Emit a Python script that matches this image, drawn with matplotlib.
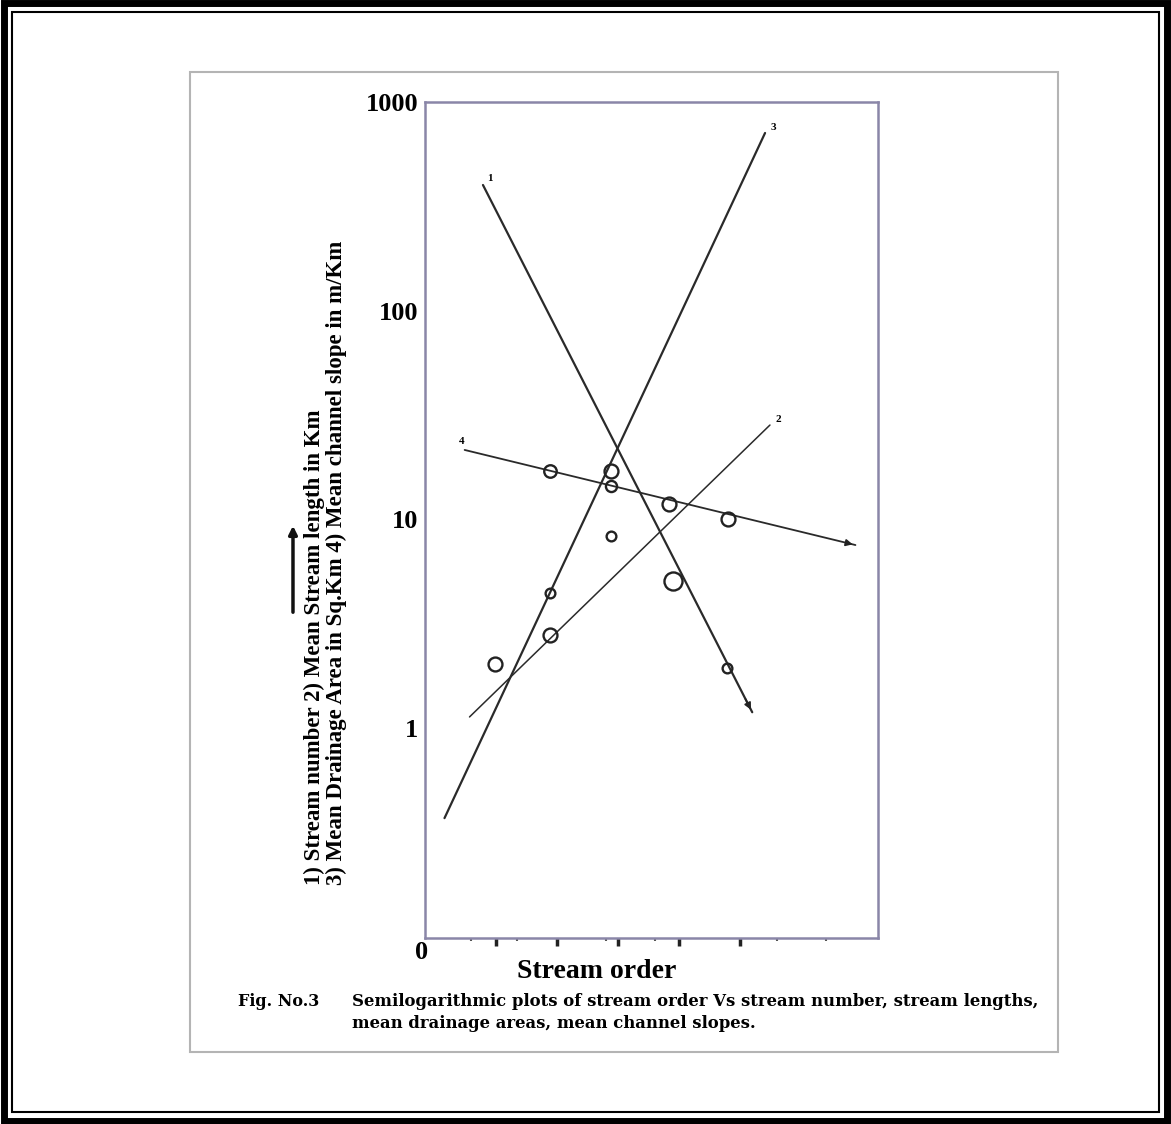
import matplotlib
matplotlib.use("Agg")
import matplotlib.pyplot as plt
from matplotlib.patches import Rectangle, FancyArrowPatch
from matplotlib.ticker import FixedLocator, NullFormatter

order_pts = [1.88, 2.89, 2.89, 3.83, 4.8, 2.89, 3.9, 1.89, 1.89, 0.98, 4.79]
value_pts = [17.0, 17.0, 14.4, 11.8, 10.0, 8.3, 5.06, 4.43, 2.79, 2.03, 1.94]
marker_size = [9, 10, 8, 10, 10, 7, 13, 7, 10, 10, 7]

# fitted lines: start and end (stream order, value)
line_names = ["1", "2", "3", "4"]
line_x = [[0.79, 5.2], [0.57, 5.49], [0.16, 5.41], [0.49, 6.89]]
line_y = [[400, 1.19], [1.13, 28.3], [0.37, 710], [21.5, 7.53]]
line_w = [1.6, 1.1, 1.6, 1.3]

xticks = [1, 2, 3, 4, 5]
yticks = [1, 10, 100, 1000]
ytick_labels = ["1", "10", "100", "1000"]

serif = ["Liberation Serif", "DejaVu Serif"]

fig = plt.figure(figsize=(11.71, 11.24), dpi=100)
ax = fig.add_axes([0.3629, 0.1655, 0.3869, 0.7438])
ax.set_yscale("log")
ax.set_xlim(-0.16, 7.26)
ax.set_ylim(0.0986, 1000)

for nm, xs, ys, lw in zip(line_names, line_x, line_y, line_w):
    ax.plot(xs, ys, color="#2a2a2a", lw=lw, solid_capstyle="round")
    if nm == "4":
        ax.annotate(nm, (xs[0], ys[0]), xytext=(-4, 4), textcoords="offset points",
                    fontsize=8, fontweight="bold", family=serif)
    elif nm == "1":
        ax.annotate(nm, (xs[0], ys[0]), xytext=(3, 3), textcoords="offset points",
                    fontsize=8, fontweight="bold", family=serif)
    else:
        ax.annotate(nm, (xs[1], ys[1]), xytext=(4, 2), textcoords="offset points",
                    fontsize=8, fontweight="bold", family=serif)

# small arrow heads at the ends of lines 1 and 4
for i in (0, 3):
    xs, ys = line_x[i], line_y[i]
    f = 0.97
    x0 = xs[0] + f * (xs[1] - xs[0])
    y0 = ys[0] * (ys[1] / ys[0]) ** f
    ax.annotate("", xy=(xs[1], ys[1]), xytext=(x0, y0),
                arrowprops=dict(arrowstyle="-|>", color="#222222", lw=1.2,
                                mutation_scale=10))

for x, y, s in zip(order_pts, value_pts, marker_size):
    ax.plot(x, y, "o", ms=s, mfc="none", mec="#222222", mew=1.7)

for sp in ax.spines.values():
    sp.set_color("#8a86a8")
    sp.set_linewidth(1.8)

ax.xaxis.set_major_locator(FixedLocator(xticks))
ax.xaxis.set_major_formatter(NullFormatter())
ax.xaxis.set_minor_locator(FixedLocator([0.6, 1.35, 2.8, 3.6, 5.6, 6.4]))
ax.xaxis.set_minor_formatter(NullFormatter())
ax.tick_params(axis="x", which="major", length=6, width=2.5, color="#222222", direction="out")
ax.tick_params(axis="x", which="minor", length=2, width=1.5, color="#555555", direction="out")

ax.yaxis.set_major_locator(FixedLocator(yticks))
ax.set_yticklabels(ytick_labels)
ax.yaxis.set_minor_locator(FixedLocator([]))
ax.tick_params(axis="y", length=0, pad=5)
for t in ax.get_yticklabels():
    t.set_fontfamily(serif)
    t.set_fontweight("bold")
    t.set_fontsize(19)

ax.text(-0.007, -0.004, "0", transform=ax.transAxes, ha="center", va="top",
        fontsize=19, fontweight="bold", family=serif)
ax.set_xlabel("Stream order", fontsize=20, fontweight="bold", family=serif)
ax.xaxis.set_label_coords(0.38, -0.025)

fig.text(0.278, 1 - 885 / 1124,
         "1) Stream number 2) Mean Stream length in Km\n"
         "3) Mean Drainage Area in Sq.Km 4) Mean channel slope in m/Km",
         rotation=90, ha="center", va="bottom", multialignment="left",
         fontsize=16.5, fontweight="bold", family=serif, linespacing=1.05)
fig.add_artist(FancyArrowPatch((0.2502, 1 - 615 / 1124), (0.2502, 1 - 523 / 1124),
                               transform=fig.transFigure, arrowstyle="-|>",
                               mutation_scale=12, lw=2.5, color="#111111"))

cap = ["DejaVu Serif"]
fig.text(238 / 1171, 1 - 1002 / 1124, "Fig. No.3", fontsize=11.5, fontweight="bold",
         family=cap, va="center")
fig.text(352 / 1171, 1 - 1002 / 1124,
         "Semilogarithmic plots of stream order Vs stream number, stream lengths,",
         fontsize=11.85, fontweight="bold", family=cap, va="center")
fig.text(352 / 1171, 1 - 1023 / 1124, "mean drainage areas, mean channel slopes.",
         fontsize=11.85, fontweight="bold", family=cap, va="center")

# page frames
fig.add_artist(Rectangle((190 / 1171, 1 - 1052 / 1124), 868 / 1171, 980 / 1124,
                         transform=fig.transFigure, fill=False, ec="#b4b4b4", lw=1.5))
fig.add_artist(Rectangle((0.003, 0.003), 0.994, 0.994, transform=fig.transFigure,
                         fill=False, ec="black", lw=5))
fig.add_artist(Rectangle((12 / 1171, 12 / 1124), 1147 / 1171, 1100 / 1124,
                         transform=fig.transFigure, fill=False, ec="black", lw=1.5))

fig.savefig("out.png", dpi=100)
